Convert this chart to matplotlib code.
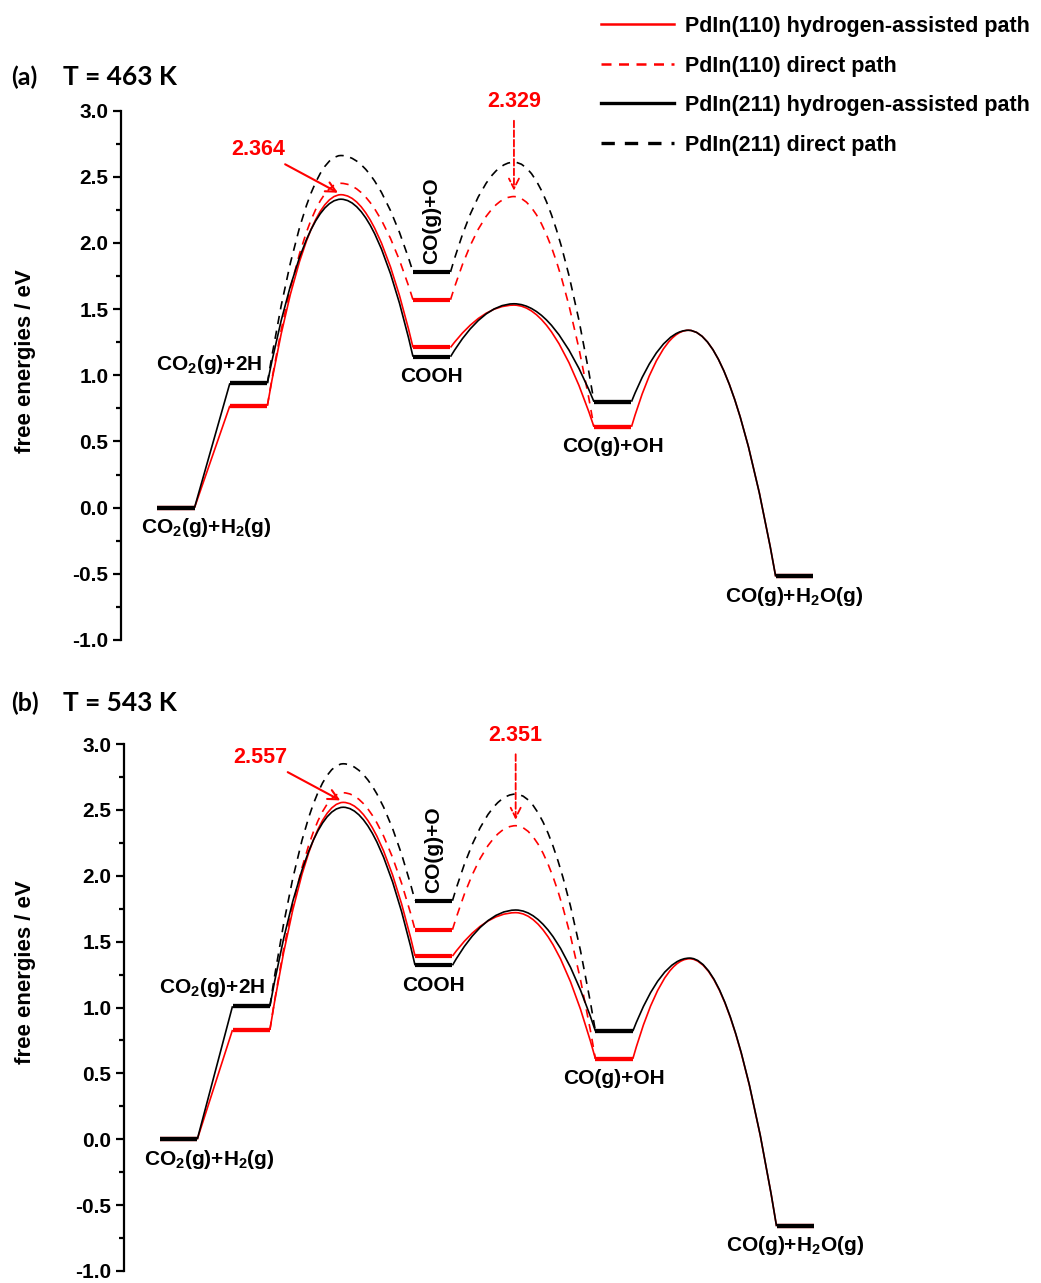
import numpy as np
import matplotlib
matplotlib.use("Agg")
import matplotlib.pyplot as plt
from matplotlib.path import Path
from matplotlib.patches import PathPatch
from matplotlib.lines import Line2D
from matplotlib.ticker import MultipleLocator, FormatStrFormatter

plt.rcParams["font.family"] = ["Liberation Sans", "DejaVu Sans"]
plt.rcParams["font.weight"] = "bold"
plt.rcParams["mathtext.fontset"] = "custom"
plt.rcParams["mathtext.rm"] = "Liberation Sans:bold"
plt.rcParams["mathtext.default"] = "rm"

# states along the reaction coordinate
STATES = ["CO$_2$(g)+H$_2$(g)", "CO$_2$(g)+2H", "TS1", "COOH", "TS2",
          "CO(g)+OH", "TS3", "CO(g)+H$_2$O(g)"]
MID_DIRECT = "CO(g)+O"

# free energies (eV)
# order: initial, CO2+2H, TS1, COOH / CO+O, TS2, CO+OH, TS3, final
a_110_h = [0.0, 0.77, 2.364, 1.21, 1.53, 0.61, 1.34, -0.52]
a_110_d = [0.0, 0.77, 2.45, 1.57, 2.35, 0.61, 1.34, -0.52]
a_211_h = [0.0, 0.94, 2.33, 1.14, 1.54, 0.80, 1.34, -0.52]
a_211_d = [0.0, 0.94, 2.66, 1.78, 2.61, 0.80, 1.34, -0.52]

b_110_h = [0.0, 0.83, 2.557, 1.39, 1.72, 0.61, 1.37, -0.66]
b_110_d = [0.0, 0.83, 2.63, 1.59, 2.38, 0.61, 1.37, -0.66]
b_211_h = [0.0, 1.01, 2.52, 1.32, 1.74, 0.82, 1.375, -0.66]
b_211_d = [0.0, 1.01, 2.85, 1.81, 2.62, 0.82, 1.375, -0.66]

a_notes = ["2.364", "2.329"]
b_notes = ["2.557", "2.351"]

SERIES_NAMES = ["PdIn(110) hydrogen-assisted path", "PdIn(110) direct path",
                "PdIn(211) hydrogen-assisted path", "PdIn(211) direct path"]

# layout of the reaction coordinate (arbitrary units)
X = [0, 1.01, 2.29, 3.55, 4.69, 6.06, 7.11, 8.58]
HW = 0.26
LEVELS = [0, 1, 3, 5, 7]


def connectors(e, direct=False):
    verts, codes = [], []
    # straight step from the initial state
    verts += [(X[0] + HW, e[0]), (X[1] - HW, e[1])]
    codes += [Path.MOVETO, Path.LINETO]
    humps = [(1, 2, 3), (3, 4, 5)] if direct else [(1, 2, 3), (3, 4, 5), (5, 6, 7)]
    for i, t, j in humps:
        x0, y0 = X[i] + HW, e[i]
        xp, yp = X[t], e[t]
        x1, y1 = X[j] - HW, e[j]
        verts += [(x0, y0), ((x0 + xp) / 2, yp), (xp, yp), ((xp + x1) / 2, yp), (x1, y1)]
        codes += [Path.MOVETO, Path.CURVE3, Path.CURVE3, Path.CURVE3, Path.CURVE3]
    if direct:
        verts, codes = verts[2:], codes[2:]
    return Path(verts, codes)


def draw_panel(ax, e110h, e110d, e211h, e211d, notes):
    for e, col, direct in [(e110d, "red", True), (e110h, "red", False),
                           (e211d, "black", True), (e211h, "black", False)]:
        ls = (0, (5, 4)) if direct else "-"
        ax.add_patch(PathPatch(connectors(e, direct), fill=False, ec=col,
                               lw=1.2, ls=ls, zorder=2))
    for e, col in [(e110h, "red"), (e110d, "red"), (e211h, "black"), (e211d, "black")]:
        for k in LEVELS:
            ax.plot([X[k] - HW, X[k] + HW], [e[k], e[k]], color=col, lw=3,
                    solid_capstyle="butt", zorder=3)

    # state labels under the lowest level
    for k in LEVELS:
        low = min(e110h[k], e211h[k])
        if k == 1:
            ax.text(X[1] - 0.55, max(e110h[1], e211h[1]) + 0.14, STATES[1],
                    ha="center", va="center", fontsize=15, fontweight="bold")
            continue
        dx = 0.43 if k == 0 else 0.0
        ax.text(X[k] + dx, low - 0.15, STATES[k], ha="center", va="center",
                fontsize=15, fontweight="bold")
    ax.text(X[3], e211d[3] + 0.06, MID_DIRECT, rotation=90, ha="center",
            va="bottom", fontsize=15, fontweight="bold")

    ax.annotate(notes[0], xy=(X[2] - 0.04, e110h[2] + 0.015),
                xytext=(X[2] - 1.15, e110h[2] + 0.34), ha="center", va="center",
                color="red", fontsize=15.5, fontweight="bold",
                arrowprops=dict(arrowstyle="->", color="red", lw=1.5,
                                mutation_scale=18, shrinkA=2, shrinkB=0),
                annotation_clip=False)
    ax.annotate(notes[1], xy=(X[4], e110d[4] + 0.045),
                xytext=(X[4], 3.065), ha="center", va="center",
                color="red", fontsize=15.5, fontweight="bold",
                arrowprops=dict(arrowstyle="->", color="red", lw=1.3, ls="--",
                                mutation_scale=18, shrinkA=4, shrinkB=0),
                annotation_clip=False)

    ax.set_ylim(-1.0, 3.0)
    ax.set_xlim(-0.76, 12.0)
    for side in ["top", "right", "bottom"]:
        ax.spines[side].set_visible(False)
    ax.spines["left"].set_linewidth(1.6)
    ax.set_xticks([])
    ax.yaxis.set_major_locator(MultipleLocator(0.5))
    ax.yaxis.set_minor_locator(MultipleLocator(0.25))
    ax.yaxis.set_major_formatter(FormatStrFormatter("%.1f"))
    ax.tick_params(axis="y", which="major", length=6, width=1.6, labelsize=15, pad=3)
    ax.tick_params(axis="y", which="minor", length=3.5, width=1.6)
    for lab in ax.get_yticklabels():
        lab.set_fontweight("bold")


fig = plt.figure(figsize=(10.41, 12.83), dpi=100)
H = 1283.0
ax_a = fig.add_axes([121 / 1041, 1 - 640 / H, 920 / 1041, 529.5 / H])
ax_b = fig.add_axes([124 / 1041, 1 - 1271 / H, 917 / 1041, 527 / H])

draw_panel(ax_a, a_110_h, a_110_d, a_211_h, a_211_d, a_notes)
draw_panel(ax_b, b_110_h, b_110_d, b_211_h, b_211_d, b_notes)

for yc, ylab in [(361, "free energies / eV"), (972, "free energies / eV")]:
    fig.text(26 / 1041, 1 - yc / H, ylab, rotation=90, ha="center", va="center",
             fontsize=16, fontweight="bold")

for yc, tag, temp in [(77, "(a)", "T = 463 K"), (703, "(b)", "T = 543 K")]:
    fig.text(11 / 1041, 1 - yc / H, tag, ha="left", va="center",
             fontsize=18, fontweight="bold", family=["Lato", "DejaVu Sans"])
    fig.text(63 / 1041, 1 - yc / H, temp, ha="left", va="center",
             fontsize=19, fontweight="bold", family=["Lato", "DejaVu Sans"])

handles = [Line2D([], [], color="red", lw=1.8),
           Line2D([], [], color="red", lw=1.8, ls=(0, (4, 3))),
           Line2D([], [], color="black", lw=2.4),
           Line2D([], [], color="black", lw=2.4, ls=(0, (4, 3)))]
fig.legend(handles, SERIES_NAMES, loc="upper left",
           bbox_to_anchor=(601 / 1041, 1 - 16 / H), frameon=False,
           borderpad=0, borderaxespad=0, handlelength=3.4, handletextpad=0.5,
           labelspacing=0.86, prop=dict(family="Liberation Sans", weight="bold", size=15.5))

fig.savefig("out.png", dpi=100)
